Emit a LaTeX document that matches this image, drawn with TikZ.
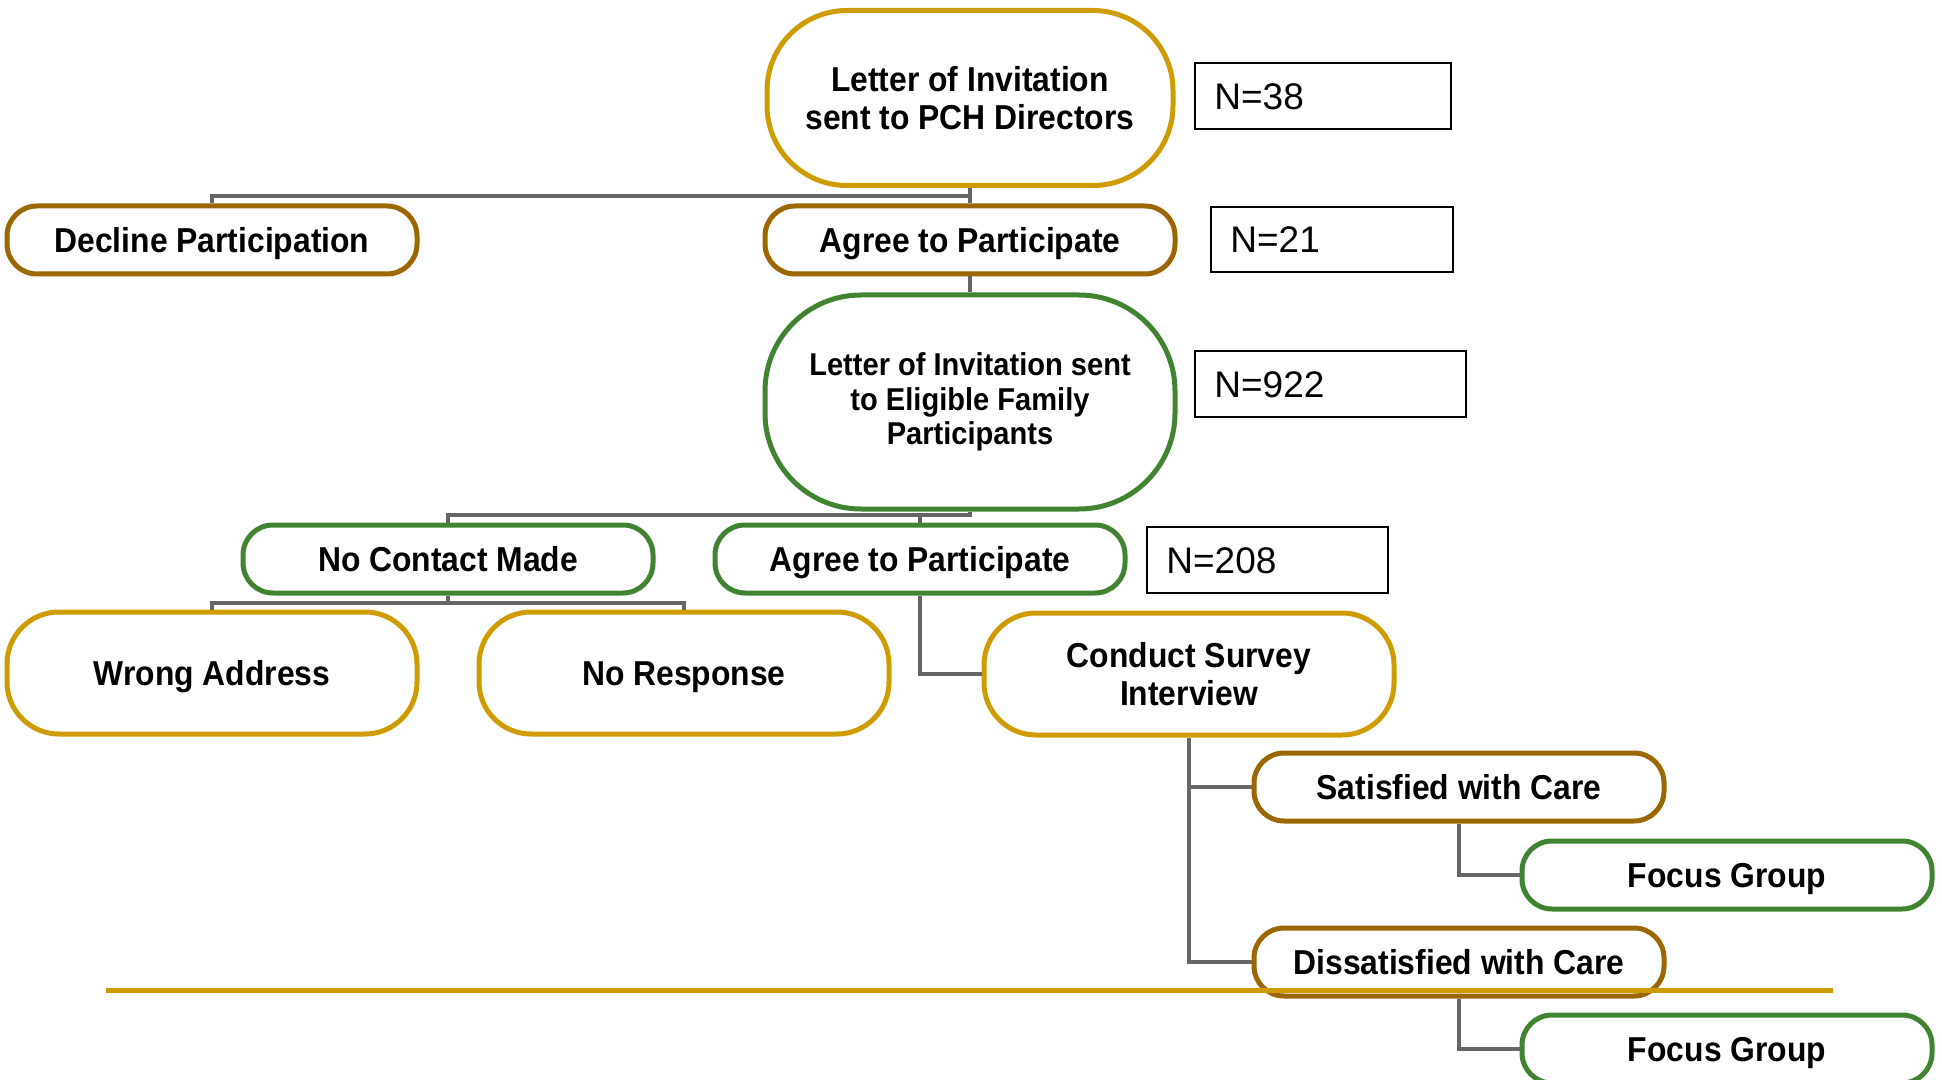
\documentclass[tikz,border=0pt]{standalone}
\usepackage{fontspec}
\setmainfont{Liberation Sans}
\newfontfamily\nodefont[FakeStretch=0.92]{Liberation Sans}
\usetikzlibrary{calc}
\definecolor{cgold}{RGB}{206,156,0}
\definecolor{cbrown}{RGB}{155,103,0}
\definecolor{cgreen}{RGB}{64,132,50}
\definecolor{cgray}{RGB}{102,102,102}
\tikzset{
  box/.style={draw, fill=white, line width=2.5pt, align=center, inner sep=0pt,
    font=\nodefont\bfseries\fontsize{17.3}{19}\selectfont},
  gold/.style={draw=cgold},
  brown/.style={draw=cbrown},
  green/.style={draw=cgreen},
  oneline/.style={text height=12.4pt, text depth=0pt},
  midshape/.style={minimum width=205pt, minimum height=61pt, rounded corners=26pt},
  small/.style={oneline, minimum width=205pt, minimum height=34pt, rounded corners=15pt},
  mid/.style={oneline, midshape},
  nbox/.style={draw=black, line width=1pt, fill=white, inner sep=0pt, anchor=north west,
    font=\fontsize{18.5}{20}\selectfont},
  ntext/.style={anchor=west, inner sep=0pt, text height=13.2pt, text depth=0pt,
    font=\fontsize{18.5}{20}\selectfont},
  conn/.style={draw=cgray, line width=1.9pt},
}
\begin{document}
\begin{tikzpicture}[x=0.5pt, y=-0.5pt]
\clip (0,0) rectangle (1942,1080);
\fill[white] (0,0) rectangle (1942,1080);

\coordinate (b1) at (0,196);
\coordinate (b2) at (0,515);
\coordinate (b3) at (0,603);

% nodes
\node[box, gold, minimum width=203pt, minimum height=87.5pt, rounded corners=40pt] (n1) at (970,98) {Letter of Invitation\\sent to PCH Directors};
\node[box, brown, small] (decline) at (212,240) {Decline Participation};
\node[box, brown, small] (agree1) at (970,240) {Agree to Participate};
\node[box, green, minimum width=205pt, minimum height=107pt, rounded corners=48pt,
  font=\nodefont\bfseries\fontsize{15.8}{17.3}\selectfont] (n2) at (970,402) {Letter of Invitation sent\\to Eligible Family\\Participants};
\node[box, green, small] (nocontact) at (448,559) {No Contact Made};
\node[box, green, small] (agree2) at (920,559) {Agree to Participate};
\node[box, gold, mid] (wrong) at (212,673) {Wrong Address};
\node[box, gold, mid] (noresp) at (684,673) {No Response};
\node[box, gold, midshape] (conduct) at (1189,674) {Conduct Survey\\Interview};
\node[box, brown, small] (sat) at (1459,787) {Satisfied with Care};
\node[box, green, small] (focus1) at (1727,875) {Focus Group};
\node[box, brown, small] (dissat) at (1459,962) {Dissatisfied with Care};
\node[box, green, small] (focus2) at (1727,1049) {Focus Group};

% connectors
\draw[conn] (n1.south) -- (n1.south |- b1) -| (decline.north);
\draw[conn] (n1.south) -- (agree1.north);
\draw[conn] (agree1.south) -- (n2.north);
\draw[conn] (n2.south) -- (n2.south |- b2) -| (nocontact.north);
\draw[conn] (n2.south |- b2) -| (agree2.north);
\draw[conn] (nocontact.south) -- (nocontact.south |- b3) -| (wrong.north);
\draw[conn] (nocontact.south |- b3) -| (noresp.north);
\draw[conn] (agree2.south) |- (conduct.west);
\draw[conn] (conduct.south) |- (sat.west);
\draw[conn] (conduct.south) |- (dissat.west);
\draw[conn] (sat.south) |- (focus1.west);
\draw[conn] (dissat.south) |- (focus2.west);

% N boxes
\node[nbox, minimum width=128pt, minimum height=33pt] (c38) at (1194,62) {};
\node[ntext] (t38) at ($(c38.west)+(20,0)$) {N=38};
\node[nbox, minimum width=121pt, minimum height=32.5pt] (c21) at (1210,206) {};
\node[ntext] (t21) at ($(c21.west)+(20,0)$) {N=21};
\node[nbox, minimum width=135.5pt, minimum height=33pt] (c922) at (1194,350) {};
\node[ntext] (t922) at ($(c922.west)+(20,0)$) {N=922};
\node[nbox, minimum width=120.5pt, minimum height=33pt] (c208) at (1146,526) {};
\node[ntext] (t208) at ($(c208.west)+(20,0)$) {N=208};

% gold rule
\coordinate (r1) at (106,990);
\coordinate (r2) at (1833,990);
\draw[cgold, line width=2.5pt] (r1) -- (r2);
\end{tikzpicture}
\end{document}
